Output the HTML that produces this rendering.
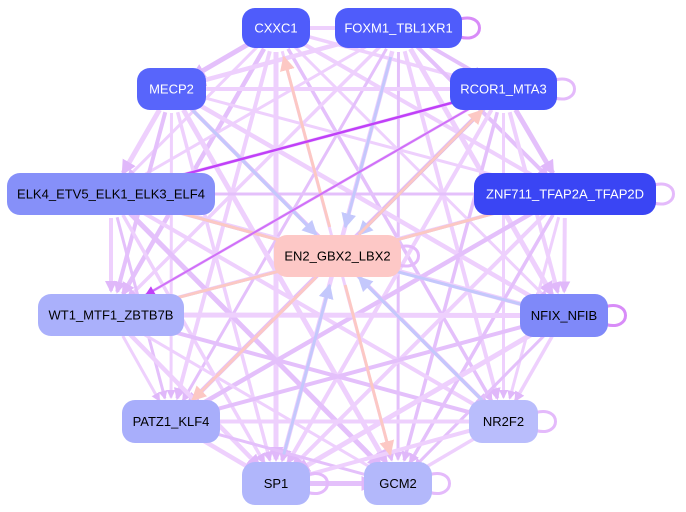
<!DOCTYPE html>
<html><head><meta charset="utf-8"><style>
html,body{margin:0;padding:0;background:#fff;width:686px;height:512px;overflow:hidden}
svg{display:block}
text{font-family:"Liberation Sans",sans-serif;font-size:13px;text-anchor:middle;dominant-baseline:central}
</style></head><body>
<svg id="s" width="686" height="512" viewBox="0 0 686 512" xmlns="http://www.w3.org/2000/svg">
<defs>
<marker id="ap" markerWidth="3" markerHeight="3" refX="2.5" refY="1.5" orient="auto" markerUnits="strokeWidth"><path d="M0,0L3,1.5L0,3z" fill="#e0b8fa"/></marker>
<marker id="ab" markerWidth="5" markerHeight="5" refX="4.5" refY="2.5" orient="auto" markerUnits="strokeWidth"><path d="M0,0L5,2.5L0,5z" fill="#c4c8fc"/></marker>
<marker id="ar" markerWidth="5" markerHeight="5" refX="4.5" refY="2.5" orient="auto" markerUnits="strokeWidth"><path d="M0,0L5,2.5L0,5z" fill="#fcc8c4"/></marker>
<marker id="am" markerWidth="5" markerHeight="5" refX="4.5" refY="2.5" orient="auto" markerUnits="strokeWidth"><path d="M0,0L5,2.5L0,5z" fill="#c040f8"/></marker>
</defs>
<g id="edges"></g>
<g id="special"></g>
<g id="nodes"></g>
</svg>
<script>
var N={
CXXC1:[242,8,68,40,"#4f5cfb","#fff"],
FOXM1_TBL1XR1:[335,8,127,40,"#4f5cfb","#fff"],
RCOR1_MTA3:[450,68,107,42,"#4655fa","#fff"],
MECP2:[137,68,69,42,"#5865fb","#fff"],
ELK4_ETV5_ELK1_ELK3_ELF4:[7,173,208,42,"#8690f9","#000"],
ZNF711_TFAP2A_TFAP2D:[474,173,182,42,"#3a45f4","#fff"],
EN2_GBX2_LBX2:[274,235,127,42,"#fdc8c6","#000"],
WT1_MTF1_ZBTB7B:[38,294,146,42,"#aab0fb","#000"],
NFIX_NFIB:[520,294,88,43,"#7f89f9","#000"],
PATZ1_KLF4:[122,400,98,43,"#a8aefb","#000"],
NR2F2:[469,400,69,43,"#b9bdfc","#000"],
SP1:[242,462,68,43,"#b0b6fb","#000"],
GCM2:[364,462,68,43,"#b3b8fb","#000"]};
function c(k){var n=N[k];return [n[0]+n[2]/2,n[1]+n[3]/2];}
var ns="http://www.w3.org/2000/svg";
function line(g,a,b,col,w,m,shrink){var p=c(a),q=c(b);var dx=q[0]-p[0],dy=q[1]-p[1],L=Math.hypot(dx,dy);
var s1=shrink||26,s2=shrink||26;
var l=document.createElementNS(ns,"line");
l.setAttribute("x1",p[0]+dx/L*s1);l.setAttribute("y1",p[1]+dy/L*s1);
l.setAttribute("x2",q[0]-dx/L*s2);l.setAttribute("y2",q[1]-dy/L*s2);
l.setAttribute("stroke",col);l.setAttribute("stroke-width",w);
if(m)l.setAttribute("marker-end","url(#"+m+")");
document.getElementById(g).appendChild(l);}
var outer=Object.keys(N).filter(function(k){return k!="EN2_GBX2_LBX2"});
var ws=[3,4,3.5,5,3,4,4.5];var i=0;
for(var a=0;a<outer.length;a++)for(var b=a+1;b<outer.length;b++){i++;
line("edges",outer[a],outer[b],i%3==0?"#e4c0fb":"#eed0fd",ws[i%7],"ap",24);}
["SP1","NR2F2","NFIX_NFIB","FOXM1_TBL1XR1","MECP2","WT1_MTF1_ZBTB7B","ELK4_ETV5_ELK1_ELK3_ELF4","ZNF711_TFAP2A_TFAP2D"].forEach(function(k){line("special",k,"EN2_GBX2_LBX2","#c4c8fc",3,"ab",30);});
line("special","RCOR1_MTA3","EN2_GBX2_LBX2","#8a96f8",3,"ab",30);
["CXXC1","GCM2","PATZ1_KLF4","WT1_MTF1_ZBTB7B","ELK4_ETV5_ELK1_ELK3_ELF4","ZNF711_TFAP2A_TFAP2D","RCOR1_MTA3"].forEach(function(k){line("special","EN2_GBX2_LBX2",k,"#fcc8c4",3,"ar",30);});
line("special","RCOR1_MTA3","ELK4_ETV5_ELK1_ELK3_ELF4","#c040f8",2.5,"am",40);
line("special","RCOR1_MTA3","WT1_MTF1_ZBTB7B","#d070f8",2,"am",40);
[["FOXM1_TBL1XR1"],["RCOR1_MTA3"],["ZNF711_TFAP2A_TFAP2D"],["NFIX_NFIB"],["NR2F2"],["SP1"],["GCM2"],["EN2_GBX2_LBX2"]].forEach(function(a){var n=N[a[0]];var x=n[0]+n[2],y=n[1]+n[3]/2;
var p=document.createElementNS(ns,"path");p.setAttribute("d","M"+(x-2)+","+(y-9)+" C"+(x+24)+","+(y-16)+" "+(x+24)+","+(y+16)+" "+(x-2)+","+(y+9));
p.setAttribute("fill","none");p.setAttribute("stroke",a[0]=="NFIX_NFIB"||a[0]=="FOXM1_TBL1XR1"?"#d88cf8":"#e4bafb");p.setAttribute("stroke-width",3);
document.getElementById("edges").appendChild(p);});
var g=document.getElementById("nodes");
for(var k in N){var n=N[k];var r=document.createElementNS(ns,"rect");
r.setAttribute("x",n[0]);r.setAttribute("y",n[1]);r.setAttribute("width",n[2]);r.setAttribute("height",n[3]);
r.setAttribute("rx",13);r.setAttribute("fill",n[4]);g.appendChild(r);
var t=document.createElementNS(ns,"text");t.setAttribute("x",n[0]+n[2]/2);t.setAttribute("y",n[1]+n[3]/2);
t.setAttribute("fill",n[5]);t.textContent=k;g.appendChild(t);}
</script>
</body></html>
